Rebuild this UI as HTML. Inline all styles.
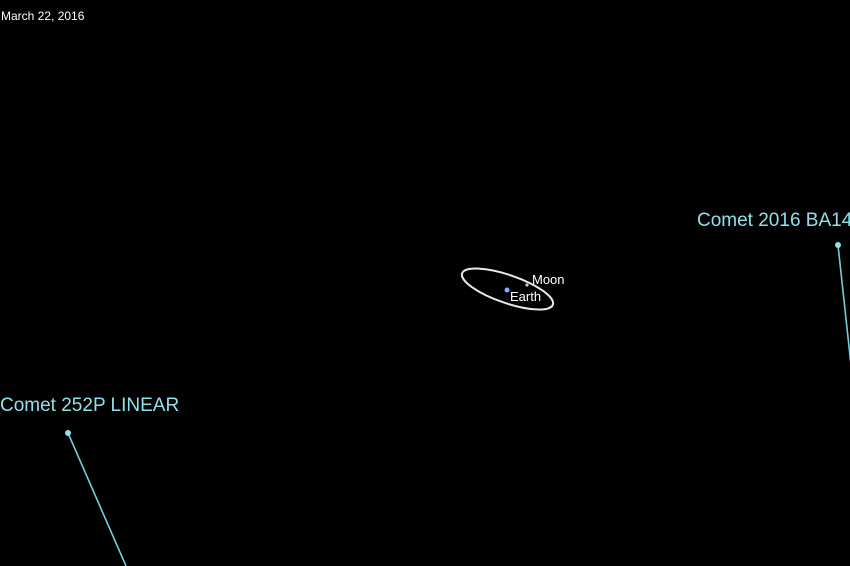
<!DOCTYPE html>
<html><head><style>
html,body{margin:0;padding:0;background:#000;}
body{width:850px;height:566px;overflow:hidden;position:relative;font-family:"Liberation Sans",sans-serif;}
.t{position:absolute;white-space:nowrap;}
</style></head><body>
<svg width="850" height="566" style="position:absolute;left:0;top:0">
<ellipse cx="507.5" cy="289" rx="48" ry="14" transform="rotate(19 507.5 289)" fill="none" stroke="#e8e8e8" stroke-width="2"/>
<circle cx="507" cy="290" r="2.5" fill="#7fb0ff"/>
<circle cx="527" cy="285" r="1.6" fill="#ccc"/>
<line x1="838" y1="245" x2="851" y2="365" stroke="#6fd0dc" stroke-width="1.6"/>
<circle cx="838" cy="245" r="3" fill="#8fdfe8"/>
<line x1="68" y1="433" x2="126" y2="566" stroke="#6fd0dc" stroke-width="1.6"/>
<circle cx="68" cy="433" r="3" fill="#8fdfe8"/>
</svg>
<div class="t" style="left:1px;top:9px;font-size:12px;color:#fff">March 22, 2016</div>
<div class="t" style="left:532px;top:272px;font-size:13px;color:#fff">Moon</div>
<div class="t" style="left:510px;top:289px;font-size:13px;color:#fff">Earth</div>
<div class="t" style="left:697px;top:210px;font-size:19px;color:#8fe0ea">Comet 2016 BA14</div>
<div class="t" style="left:0px;top:395px;font-size:19px;color:#8fe0ea">Comet 252P LINEAR</div>
</body></html>
